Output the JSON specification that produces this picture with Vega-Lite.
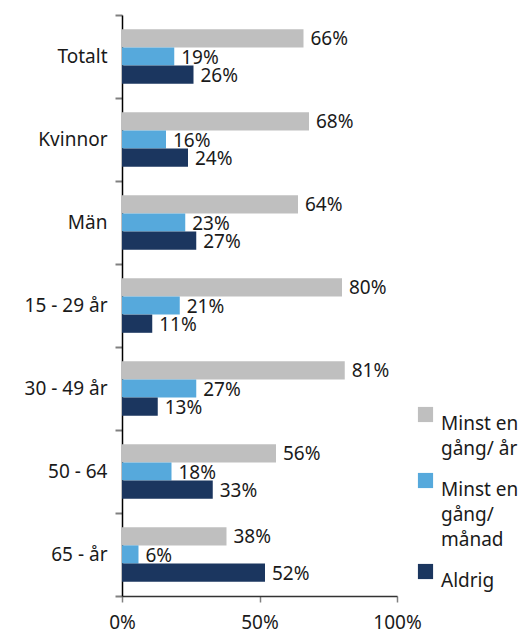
{
  "$schema": "https://vega.github.io/schema/vega-lite/v6.json",
  "width": 275,
  "height": 581,
  "autosize": "none",
  "padding": {"left": 122, "top": 15, "right": 126, "bottom": 38},
  "background": "white",
  "config": {"view": {"stroke": null}, "font": "Noto Sans", "style": {"guide-label": {"lineHeight": 25}}},
  "data": {"values": [
    {"grupp": "Totalt", "serie": "Minst en|gång/ år", "v": 0.66},
    {"grupp": "Totalt", "serie": "Minst en|gång/|månad", "v": 0.19},
    {"grupp": "Totalt", "serie": "Aldrig", "v": 0.26},
    {"grupp": "Kvinnor", "serie": "Minst en|gång/ år", "v": 0.68},
    {"grupp": "Kvinnor", "serie": "Minst en|gång/|månad", "v": 0.16},
    {"grupp": "Kvinnor", "serie": "Aldrig", "v": 0.24},
    {"grupp": "Män", "serie": "Minst en|gång/ år", "v": 0.64},
    {"grupp": "Män", "serie": "Minst en|gång/|månad", "v": 0.23},
    {"grupp": "Män", "serie": "Aldrig", "v": 0.27},
    {"grupp": "15 - 29 år", "serie": "Minst en|gång/ år", "v": 0.80},
    {"grupp": "15 - 29 år", "serie": "Minst en|gång/|månad", "v": 0.21},
    {"grupp": "15 - 29 år", "serie": "Aldrig", "v": 0.11},
    {"grupp": "30 - 49 år", "serie": "Minst en|gång/ år", "v": 0.81},
    {"grupp": "30 - 49 år", "serie": "Minst en|gång/|månad", "v": 0.27},
    {"grupp": "30 - 49 år", "serie": "Aldrig", "v": 0.13},
    {"grupp": "50 - 64", "serie": "Minst en|gång/ år", "v": 0.56},
    {"grupp": "50 - 64", "serie": "Minst en|gång/|månad", "v": 0.18},
    {"grupp": "50 - 64", "serie": "Aldrig", "v": 0.33},
    {"grupp": "65 - år", "serie": "Minst en|gång/ år", "v": 0.38},
    {"grupp": "65 - år", "serie": "Minst en|gång/|månad", "v": 0.06},
    {"grupp": "65 - år", "serie": "Aldrig", "v": 0.52}
  ]},
  "encoding": {
    "y": {
      "field": "grupp", "type": "nominal", "sort": null,
      "scale": {"paddingInner": 0, "paddingOuter": 0},
      "axis": {
        "title": null, "tickBand": "extent", "tickSize": 7, "tickColor": "#808080", "tickWidth": 2,
        "domainColor": "#000000", "domainWidth": 1.5,
        "labelFontSize": 19, "labelColor": "#1a1a1a", "labelPadding": 8
      }
    },
    "yOffset": {
      "field": "serie", "type": "nominal", "sort": null,
      "scale": {"paddingInner": 0, "paddingOuter": 0.78}
    },
    "x": {
      "field": "v", "type": "quantitative",
      "scale": {"domain": [0, 1]},
      "axis": {
        "title": null, "values": [0, 0.5, 1], "grid": false, "format": ".0%",
        "tickSize": 6, "tickColor": "#808080", "tickWidth": 1.5, "domainColor": "#333333", "domainWidth": 1.5,
        "labelFontSize": 19, "labelColor": "#1a1a1a", "labelPadding": 11, "labelFlush": false
      }
    }
  },
  "layer": [
    {
      "mark": {"type": "bar"},
      "encoding": {
        "color": {
          "field": "serie", "type": "nominal", "sort": null,
          "scale": {"domain": ["Minst en|gång/ år", "Minst en|gång/|månad", "Aldrig"], "range": ["#BFBFBF", "#56A9DC", "#1B365F"]},
          "legend": {
            "title": null, "orient": "none", "legendX": 294, "legendY": 390,
            "symbolType": "square", "symbolSize": 230, "symbolStrokeWidth": 0,
            "labelFontSize": 19, "labelColor": "#1a1a1a", "labelLimit": 200,
            "labelExpr": "split(datum.label, '|')", "labelBaseline": "top",
            "rowPadding": 12, "labelOffset": 6
          }
        }
      }
    },
    {
      "mark": {"type": "text", "align": "left", "baseline": "middle", "dx": 7, "dy": 1, "fontSize": 19, "color": "#1a1a1a"},
      "encoding": {"text": {"field": "v", "type": "quantitative", "format": ".0%"}}
    }
  ]
}
